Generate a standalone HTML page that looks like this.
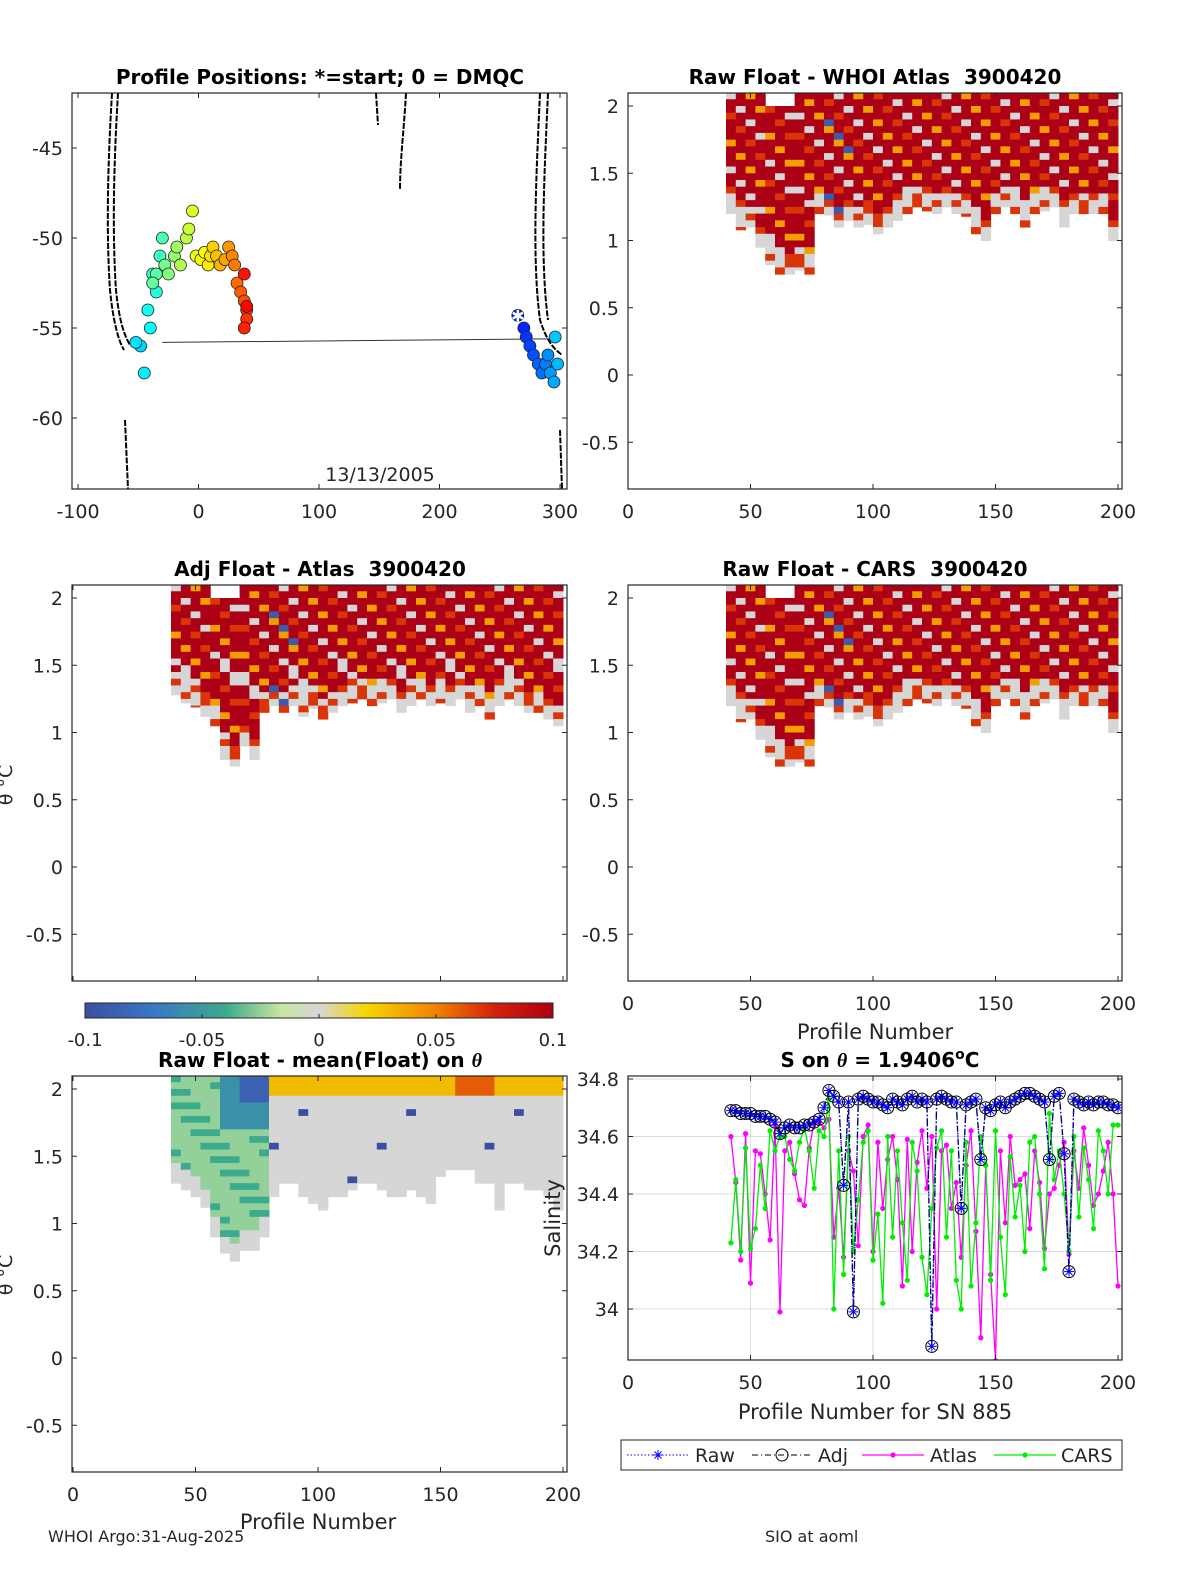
<!DOCTYPE html>
<html><head><meta charset="utf-8">
<style>
html,body{margin:0;padding:0;background:#fff;}
svg{display:block;font-family:"DejaVu Sans","Liberation Sans",sans-serif;}
.t{font-size:19px;fill:#262626;}
.ti{font-size:20px;font-weight:bold;fill:#000;}
</style></head>
<body>
<svg id="fig" width="1200" height="1575" viewBox="0 0 1200 1575" xmlns="http://www.w3.org/2000/svg"></svg>
<script>
// ---- data ----
const mapLon=[265,270,272,275,278,282,285,288,290,292,295,298,296,-48,-52,-45,-40,-42,-35,-38,-32,-30,-35,-38,-28,-25,-20,-18,-15,-10,-8,-5,-2,2,5,8,10,12,15,18,22,25,28,30,32,35,38,40,40,38,38,40];
const mapLat=[-54.3,-55,-55.5,-56,-56.5,-57,-57.5,-57,-56.5,-57.5,-58,-57,-55.5,-56,-55.8,-57.5,-55,-54,-53,-52,-51,-50,-52,-52.5,-51.5,-52,-51,-50.5,-51.5,-50,-49.5,-48.5,-51,-51.2,-50.8,-51.5,-51,-50.5,-51,-51.5,-51.2,-50.5,-51,-51.5,-52.5,-53,-53.5,-54,-54.5,-55,-52,-53.8];
const heatProfiles=[42,46,50,54,58,62,66,70,74,78,82,86,90,94,98,102,106,110,114,118,122,126,130,134,138,142,146,150,154,158,162,166,170,174,178,182,186,190,194,198];
const rawBottom=[1.2,1.08,1.1,0.95,0.82,0.75,0.75,0.78,0.75,1.2,1.19,1.1,1.15,1.1,1.12,1.05,1.1,1.15,1.2,1.25,1.22,1.2,1.25,1.2,1.18,1.05,1.0,1.2,1.25,1.2,1.1,1.2,1.22,1.25,1.1,1.2,1.2,1.2,1.2,1.0];
const adjBottom=[1.28,1.22,1.19,1.12,1.05,0.8,0.75,0.9,0.8,1.15,1.2,1.15,1.2,1.12,1.18,1.1,1.15,1.2,1.22,1.25,1.2,1.22,1.25,1.15,1.2,1.25,1.2,1.22,1.2,1.25,1.15,1.2,1.1,1.2,1.25,1.2,1.15,1.15,1.1,1.05];
const meanBottom=[1.3,1.25,1.2,1.12,0.9,0.78,0.72,0.8,0.8,0.9,1.2,1.3,1.3,1.2,1.15,1.1,1.2,1.2,1.25,1.3,1.3,1.25,1.2,1.2,1.25,1.2,1.15,1.35,1.4,1.4,1.4,1.3,1.3,1.1,1.3,1.3,1.25,1.25,1.2,1.1];
const salProfiles=[];for(let p=42;p<=200;p+=2)salProfiles.push(p);
const salRaw=[34.69,34.69,34.68,34.68,34.68,34.67,34.67,34.67,34.66,34.65,
34.61,34.63,34.64,34.63,34.63,34.64,34.64,34.65,34.66,34.7,
34.76,34.74,34.72,34.43,34.72,33.99,34.73,34.74,34.73,34.72,
34.72,34.71,34.7,34.73,34.72,34.71,34.73,34.74,34.72,34.73,
34.72,33.87,34.73,34.74,34.73,34.72,34.72,34.35,34.71,34.72,
34.73,34.52,34.7,34.69,34.71,34.72,34.7,34.72,34.73,34.74,
34.75,34.75,34.74,34.73,34.72,34.52,34.74,34.75,34.54,34.13,
34.73,34.72,34.71,34.72,34.71,34.72,34.72,34.71,34.71,34.7];
const salAtlas=[34.6,34.44,34.17,34.61,34.09,34.55,34.54,34.4,34.24,34.64,
33.99,34.55,34.58,34.47,34.38,34.36,34.56,34.65,34.65,34.63,
34.66,34.25,34.42,34.18,34.55,34.48,34.22,34.6,34.64,34.2,
34.58,34.35,34.52,34.6,34.45,34.08,34.59,34.2,34.51,34.62,
34.42,34.6,34.0,34.55,34.57,34.35,34.44,34.18,34.5,34.62,
34.27,33.9,34.5,34.12,33.82,34.55,34.3,34.6,34.43,34.45,
34.47,34.28,34.55,34.44,34.21,34.4,34.42,34.5,34.58,34.19,
34.55,34.42,34.63,34.5,34.36,34.4,34.48,34.58,34.4,34.08];
const salCars=[34.23,34.45,34.2,34.56,34.21,34.28,34.5,34.35,34.62,34.55,
34.6,34.6,34.52,34.48,34.58,34.63,34.55,34.42,34.62,34.6,
34.73,34.0,34.55,34.12,34.6,34.2,34.38,34.58,34.62,34.17,
34.33,34.02,34.6,34.25,34.55,34.3,34.1,34.58,34.48,34.18,
34.05,34.35,34.56,34.62,34.25,34.55,34.1,34.0,34.58,34.08,
34.3,34.6,34.5,34.1,34.62,34.25,34.05,34.53,34.32,34.43,
34.2,34.58,34.6,34.4,34.14,34.68,34.45,34.55,34.4,34.2,
34.6,34.32,34.56,34.45,34.28,34.62,34.55,34.4,34.64,34.64];
const profTicks=[0,50,100,150,200];
const thetaTicks=[2,1.5,1,0.5,0,-0.5];
const lonTicks=[-100,0,100,200,300];
const latTicks=[-45,-50,-55,-60];
const salTicks=[34.8,34.6,34.4,34.2,34];
const cbTicks=[-0.1,-0.05,0,0.05,0.1];

// ---- helpers ----
const NS="http://www.w3.org/2000/svg";
const svg=document.getElementById('fig');
function el(tag,attrs,parent){const e=document.createElementNS(NS,tag);for(const k in attrs)e.setAttribute(k,attrs[k]);(parent||svg).appendChild(e);return e;}
function txt(x,y,s,cls,anchor,parent){const e=el('text',{x:x,y:y,class:cls,'text-anchor':anchor||'middle'},parent);e.textContent=s;return e;}

const P1={l:72,t:93,w:495,h:396,x:v=>78+(v+100)*1.205,y:v=>148+(-45-v)*18};
const mkProf=(l,t,x0,y0)=>({l:l,t:t,w:l===72?495:494,h:396,x:p=>x0+p*2.45,y:v=>y0-v*134.5});
const P2=mkProf(628,93,628,375);
const P3=mkProf(72,585,73,867);
const P4=mkProf(628,585,628,867);
const P5=mkProf(72,1076,73,1358);
const P6={l:628,t:1076,w:494,h:284,x:p=>628+p*2.45,y:s=>1079+(34.8-s)*287.5};

function frame(P,name){
  const r=el('rect',{x:P.l,y:P.t,width:P.w,height:P.h,fill:'none',stroke:'#262626','stroke-width':1.2});
  
  
}
function profAxes(P,name,xlabels){
  const g=el('g',{});
  
  
  thetaTicks.forEach(v=>{const y=P.y(v);
    el('line',{x1:P.l,x2:P.l+5,y1:y,y2:y,stroke:'#262626'},g);
    el('line',{x1:P.l+P.w-5,x2:P.l+P.w,y1:y,y2:y,stroke:'#262626'},g);
    const t=txt(P.l-9,y+7,String(v),'t','end',g);
    
    
  });
  profTicks.forEach(v=>{const x=P.x(v);
    el('line',{x1:x,x2:x,y1:P.t+P.h,y2:P.t+P.h-5,stroke:'#262626'},g);
    el('line',{x1:x,x2:x,y1:P.t,y2:P.t+5,stroke:'#262626'},g);
    if(xlabels){const t=txt(x,P.t+P.h+29,String(v),'t','middle',g);
      
      }
  });
}
const cmapStops=[[0,[59,78,160]],[0.15,[58,120,196]],[0.3,[60,170,140]],[0.42,[200,230,160]],[0.5,[214,214,214]],[0.6,[245,215,0]],[0.75,[240,130,0]],[0.88,[210,30,10]],[1,[172,0,22]]];
function cmap(v){const f=Math.max(0,Math.min(1,(v+0.1)/0.2));
  for(let i=1;i<cmapStops.length;i++){if(f<=cmapStops[i][0]){const a=cmapStops[i-1],b=cmapStops[i];const u=(f-a[0])/(b[0]-a[0]);
    const c=a[1].map((x,k)=>Math.round(x+(b[1][k]-x)*u));return 'rgb('+c.join(',')+')';}}
  return 'rgb(172,0,22)';}

function heat(P,bottoms,name,mode){
  const g=el('g',{});
  
  
  const dth=0.05;
  heatProfiles.forEach((p,i)=>{
    const b=bottoms[i];
    const x0=P.x(p-2),x1=P.x(Math.min(p+2,201));
    let top=2.1; if(mode!=='mean'&&p>=56&&p<=66) top=2.0;
    for(let th=top,j=0;th>b;th-=dth,j++){
      const lo=Math.max(b,th-dth);
      let v;
      const h=(i*7+j*13)%11;
      if(mode==='mean'){
        if(p<80){
          if(th-b<0.15) v=0;
          else if(p>=62&&th>1.75) v=(p>=70&&th>1.95)?-0.085:-0.055;
          else v=(h%4===0)?-0.04:-0.025;
        } else {v=0; if(th>2.0)v=(p>=158&&p<=170)?0.06:0.03; else if(h===2&&j%5===0)v=-0.1;}
      } else {
        const fromBottom=th-b;
        if(fromBottom<0.18) v=(h%3===0)?0.07:0;
        else { v=0.1; if(h===0)v=0; else if(h===3)v=0.04; else if(h===6)v=0.07; else if(h===9&&mode==='adj'&&th<1.6)v=0; }
        if(p>=80&&p<=90&&h===1)v=-0.09;
      }
      el('rect',{x:x0,y:P.y(th),width:x1-x0+0.5,height:P.y(lo)-P.y(th)+0.5,fill:cmap(v)},g);
    }
  });
}

// ---- Panel 1: map ----
(function(){
  const P=P1;
  const g=el('g',{});
  
  
  const contours=["M112,93 C108,160 106,230 110,290 C113,320 118,340 124,350","M118,93 C114,160 112,230 116,290 C119,320 124,335 130,345",
  "M376,93 L378,125","M406,93 C404,130 400,160 400,190","M540,93 C536,180 532,260 540,320 C548,345 556,350 562,355","M548,93 C544,180 540,260 548,320",
  "M125,420 L128,489","M560,430 L562,489"];
  contours.forEach(d=>el('path',{d:d,fill:'none',stroke:'#000','stroke-width':2,'stroke-dasharray':'6,1.5'},g));
  el('line',{x1:P.x(-30),y1:P.y(-55.8),x2:P.x(300),y2:P.y(-55.6),stroke:'#333','stroke-width':1},g);
  const n=mapLon.length;
  const jet=t=>{const r=Math.max(0,Math.min(1,1.5-Math.abs(4*t-3))),gg=Math.max(0,Math.min(1,1.5-Math.abs(4*t-2))),b=Math.max(0,Math.min(1,1.5-Math.abs(4*t-1)));return `rgb(${Math.round(r*255)},${Math.round(gg*255)},${Math.round(b*255)})`;};
  mapLon.forEach((lo,i)=>{
    const f=i/(n-1);
    const c=el('circle',{cx:P.x(lo),cy:P.y(mapLat[i]),r:6,fill:jet(0.15+f*0.72),stroke:'#222','stroke-width':0.8},g);
    
    
  });
  const s=txt(P.x(mapLon[0]),P.y(mapLat[0])+6,'✱','t','middle',g);
  s.setAttribute('style','fill:#fff;font-size:16px');
  
  
  frame(P,'map');
  latTicks.forEach(v=>{const y=P.y(v);el('line',{x1:P.l,x2:P.l+5,y1:y,y2:y,stroke:'#262626'});el('line',{x1:P.l+P.w-5,x2:P.l+P.w,y1:y,y2:y,stroke:'#262626'});
    const t=txt(P.l-9,y+7,String(v),'t','end');});
  lonTicks.forEach(v=>{const x=P.x(v);el('line',{x1:x,x2:x,y1:P.t+P.h,y2:P.t+P.h-5,stroke:'#262626'});el('line',{x1:x,x2:x,y1:P.t,y2:P.t+5,stroke:'#262626'});
    const t=txt(x,P.t+P.h+29,String(v),'t','middle');});
  const d=txt(380,481,'13/13/2005','t','middle');
  const ti=txt(320,84,'Profile Positions: *=start; 0 = DMQC','ti','middle');
})();

heat(P2,rawBottom,'raw-atlas','raw'); frame(P2,'raw-atlas'); profAxes(P2,'raw-atlas',true);
heat(P3,adjBottom,'adj-atlas','adj'); frame(P3,'adj-atlas'); profAxes(P3,'adj-atlas',false);
heat(P4,rawBottom,'raw-cars','raw'); frame(P4,'raw-cars'); profAxes(P4,'raw-cars',true);
heat(P5,meanBottom,'raw-mean','mean'); frame(P5,'raw-mean'); profAxes(P5,'raw-mean',true);
[[875,84,'Raw Float - WHOI Atlas  3900420','raw-atlas-title'],[320,576,'Adj Float - Atlas  3900420','adj-atlas-title'],[875,576,'Raw Float - CARS  3900420','raw-cars-title']].forEach(a=>{
  const t=txt(a[0],a[1],a[2],'ti','middle');t.setAttribute('xml:space','preserve');t.setAttribute('style','white-space:pre');});
(function(){const t=el('text',{x:320,y:1067,class:'ti','text-anchor':'middle'});t.innerHTML='Raw Float - mean(Float) on <tspan font-style="italic" font-family="Liberation Serif">θ</tspan>';
  })();
[[785],[1275]].forEach(a=>{const t=el('text',{x:12,y:a[0],class:'t','text-anchor':'middle',transform:`rotate(-90 12 ${a[0]})`});t.textContent='θ °C';
  });
[[875,1039,'Profile Number','x-axis-title'],[318,1529,'Profile Number','x-axis-title'],[875,1419,'Profile Number for SN 885','x-axis-title']].forEach(a=>{
  const t=txt(a[0],a[1],a[2],'t','middle');t.setAttribute('style','font-size:21px');});

(function(){
  const defs=el('defs',{});const lg=el('linearGradient',{id:'cb',x1:0,x2:1,y1:0,y2:0},defs);
  cmapStops.forEach(s=>el('stop',{offset:s[0],'stop-color':'rgb('+s[1].join(',')+')'},lg));
  const r=el('rect',{x:85,y:1003,width:468,height:15,fill:'url(#cb)',stroke:'#262626','stroke-width':1});
  
  cbTicks.forEach(v=>{const x=85+(v+0.1)/0.2*468;el('line',{x1:x,x2:x,y1:1018,y2:1014,stroke:'#262626'});
    const t=txt(x,1046,String(v),'t','middle');t.setAttribute('style','font-size:18px');});
})();

(function(){
  const P=P6;
  const g=el('g',{});
  
  
  salTicks.forEach(v=>el('line',{x1:P.l,x2:P.l+P.w,y1:P.y(v),y2:P.y(v),stroke:'#dcdcdc'},g));
  [50,100,150].forEach(v=>el('line',{x1:P.x(v),x2:P.x(v),y1:P.t,y2:P.t+P.h,stroke:'#dcdcdc'},g));
  const clip=el('clipPath',{id:'c6'},el('defs',{},g));el('rect',{x:P.l,y:P.t,width:P.w,height:P.h},clip);
  const cg=el('g',{'clip-path':'url(#c6)'},g);
  function series(vals,color,dash,name){
    const pts=vals.map((v,i)=>P.x(salProfiles[i])+','+P.y(v)).join(' ');
    const pl=el('polyline',{points:pts,fill:'none',stroke:color,'stroke-width':1.3,'stroke-dasharray':dash||''},cg);
    
    
    return pl;
  }
  series(salAtlas,'#ff00ff','', 'atlas');
  salAtlas.forEach((v,i)=>el('circle',{cx:P.x(salProfiles[i]),cy:P.y(v),r:2.6,fill:'#ff00ff'},cg));
  series(salCars,'#00ee00','', 'cars');
  salCars.forEach((v,i)=>el('circle',{cx:P.x(salProfiles[i]),cy:P.y(v),r:2.6,fill:'#00ee00'},cg));
  series(salRaw,'#000','6,3,1,3','adj');
  series(salRaw,'#0000ff','1.5,2','raw');
  salRaw.forEach((v,i)=>{const x=P.x(salProfiles[i]),y=P.y(v);
    el('circle',{cx:x,cy:y,r:6,fill:'none',stroke:'#000','stroke-width':1},cg);
    el('path',{d:`M${x-5},${y}H${x+5}M${x},${y-5}V${y+5}M${x-3.5},${y-3.5}L${x+3.5},${y+3.5}M${x-3.5},${y+3.5}L${x+3.5},${y-3.5}`,stroke:'#0000ff','stroke-width':1},cg);});
  frame(P,'salinity');
  salTicks.forEach(v=>{const y=P.y(v);el('line',{x1:P.l,x2:P.l+5,y1:y,y2:y,stroke:'#262626'});el('line',{x1:P.l+P.w-5,x2:P.l+P.w,y1:y,y2:y,stroke:'#262626'});
    const t=txt(P.l-9,y+7,String(v),'t','end');});
  profTicks.forEach(v=>{const x=P.x(v);el('line',{x1:x,x2:x,y1:P.t+P.h,y2:P.t+P.h-5,stroke:'#262626'});el('line',{x1:x,x2:x,y1:P.t,y2:P.t+5,stroke:'#262626'});
    const t=txt(x,P.t+P.h+29,String(v),'t','middle');});
  const yl=el('text',{x:560,y:1218,class:'t','text-anchor':'middle',transform:'rotate(-90 560 1218)'});yl.textContent='Salinity';yl.setAttribute('style','font-size:21px');
  
  const ti=el('text',{x:880,y:1067,class:'ti','text-anchor':'middle'});
  ti.innerHTML='S on <tspan font-style="italic" font-family="Liberation Serif">θ</tspan> = 1.9406<tspan dy="-8" font-size="14">o</tspan><tspan dy="8">C</tspan>';
  
})();

(function(){
  const g=el('g',{});
  
  
  el('rect',{x:621,y:1440,width:501,height:30,fill:'#fff',stroke:'#262626'},g);
  const y=1455;
  el('line',{x1:627,x2:690,y1:y,y2:y,stroke:'#0000ff','stroke-dasharray':'1.5,2'},g);
  el('path',{d:`M653,${y}h10M658,${y-5}v10M654.5,${y-3.5}l7,7M654.5,${y+3.5}l7,-7`,stroke:'#0000ff'},g);
  txt(695,y+7,'Raw','t','start',g);
  el('line',{x1:752,x2:812,y1:y,y2:y,stroke:'#000','stroke-dasharray':'6,3,1,3'},g);
  el('circle',{cx:782,cy:y,r:6,fill:'none',stroke:'#000'},g);
  txt(818,y+7,'Adj','t','start',g);
  el('line',{x1:862,x2:924,y1:y,y2:y,stroke:'#ff00ff','stroke-width':1.3},g);
  el('circle',{cx:893,cy:y,r:2.6,fill:'#ff00ff'},g);
  txt(930,y+7,'Atlas','t','start',g);
  el('line',{x1:994,x2:1056,y1:y,y2:y,stroke:'#00ee00','stroke-width':1.3},g);
  el('circle',{cx:1025,cy:y,r:2.6,fill:'#00ee00'},g);
  txt(1061,y+7,'CARS','t','start',g);
})();

(function(){
  const a=txt(48,1542,'WHOI Argo:31-Aug-2025','t','start');a.setAttribute('style','font-size:16px');
  const b=txt(765,1542,'SIO at aoml','t','start');b.setAttribute('style','font-size:16px');
})();
</script>
</body></html>
